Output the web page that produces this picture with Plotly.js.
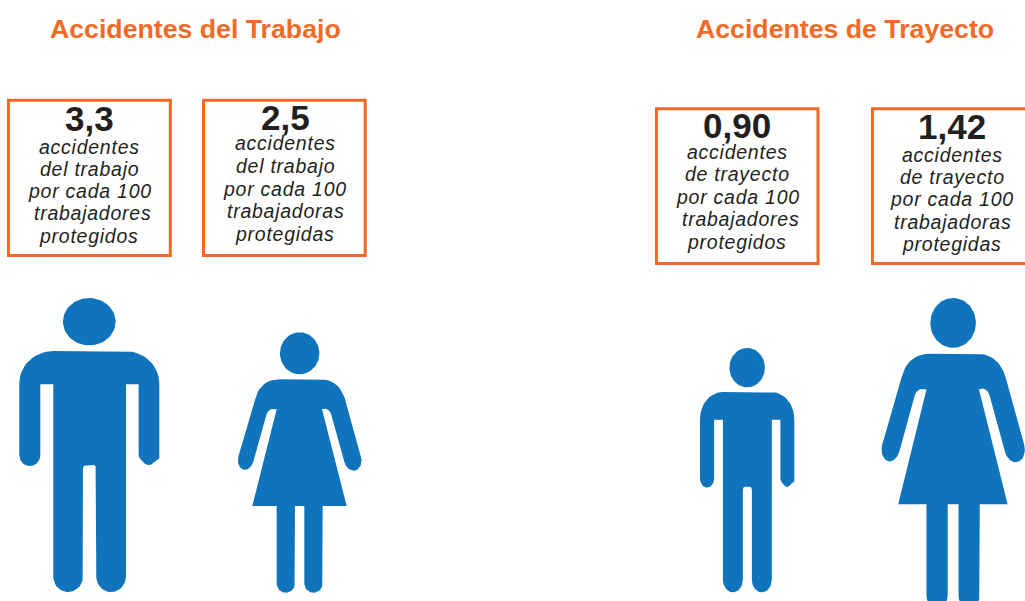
<!DOCTYPE html>
<html><head><meta charset="utf-8">
<script src="https://cdn.plot.ly/plotly-3.0.1.min.js"></script>
<style>html,body{margin:0;padding:0;background:#fff;overflow:hidden}
.annotation-text tspan[style*="italic"]{letter-spacing:0.75px}</style>
</head><body><div id="chart" style="width:1025px;height:601px"></div>
<script>
// ---- data ----
const panelTitles = ['Accidentes del Trabajo', 'Accidentes de Trayecto'];
const rateLabels = ['3,3', '2,5', '0,90', '1,42'];
const sexes = ['hombre', 'mujer', 'hombre', 'mujer'];
const captionTrabajadores = ['accidentes', 'del trabajo', 'por cada 100', 'trabajadores', 'protegidos'];
const captionTrabajadoras = ['accidentes', 'del trabajo', 'por cada 100', 'trabajadoras', 'protegidas'];
const captionTrayectoH = ['accidentes', 'de trayecto', 'por cada 100', 'trabajadores', 'protegidos'];
const captionTrayectoM = ['accidentes', 'de trayecto', 'por cada 100', 'trabajadoras', 'protegidas'];
const captions = [captionTrabajadores, captionTrabajadoras, captionTrayectoH, captionTrayectoM];

// ---- layout geometry ----
const panelTitleX = [195, 845];
const boxes = [[8.5, 170.3, 100.2, 255.6], [203.5, 365.2, 100.2, 255.6], [656.5, 818, 108.8, 263.6], [872.5, 1040, 108.8, 263.6]];
const numberPos = [[89, 118], [285, 117], [737, 125], [952, 126]];
const lineX = [[89, 89, 89.5, 92.5, 89], [285, 285, 285, 285, 285], [737, 737, 737.5, 740.5, 737], [952, 952, 952, 952, 952]];
const lineY = [[147, 169, 191, 213, 236], [143, 166, 189, 211, 234], [152, 174, 197, 219, 242], [155, 177, 199, 222, 244]];
const figures = [[19.3, 159.3, 297.7, 592], [238.3, 361.7, 332.3, 592.7], [700, 794.3, 347.7, 592.3], [882, 1025, 298, 607]];

const ORANGE = '#f26a25', BLUE = '#1074bc', INK = '#231f20';

// pictogram outlines, in their own drawing units
const manBox = [58, 478, 23, 906];
const manHead = [268, 95, 79, 71];
const manBody = [['M',160,183],['L',375,183],['Q',478,183,478,280],['L',478,505],['L',459,521],['Q',447,531,435,521],['L',424,511],['Q',416,504,416,494],['L',416,283],['L',378,283],['L',378,860],['Q',378,906,333,906],['Q',289,906,289,860],['L',289,535],['Q',289,525,279,525],['L',258,525],['Q',249,525,249,535],['L',249,860],['Q',249,906,204,906],['Q',160,906,160,860],['L',160,283],['L',121,283],['L',121,495],['Q',121,528,90,528],['Q',58,528,58,495],['L',58,280],['Q',58,183,160,183]];
const womanBox = [40, 410, 37, 818];
const womanHead = [224, 100, 59, 63];
const womanBody = [['M',165,178],['L',285,178],['Q',345,178,362,245,1],['L',408,408],['Q',418,452,385,452],['Q',364,452,358,425],['L',318,282],['Q',314,266,300,266],['L',291,268],['L',365,558],['L',293,558],['L',293,790],['Q',293,818,265,818],['Q',238,818,238,790],['L',238,558],['L',210,558],['L',210,790],['Q',210,818,182,818],['Q',155,818,155,790],['L',155,558],['L',82,558],['L',155,268],['L',145,266],['Q',130,266,125,282],['L',85,425],['Q',78,450,60,450],['Q',32,448,40,410],['L',90,240],['Q',105,178,165,178,1]];

function sample(cmds) {
  const xs = [], ys = [];
  let px = 0, py = 0;
  cmds.forEach(c => {
    if (c[0] === 'Q') {
      const w = c[5] || 0.7071;
      for (let i = 1; i <= 14; i++) {
        const t = i / 14, a = (1 - t) * (1 - t), b = 2 * w * t * (1 - t), d = t * t, s = a + b + d;
        xs.push((a * px + b * c[1] + d * c[3]) / s);
        ys.push((a * py + b * c[2] + d * c[4]) / s);
      }
      px = c[3]; py = c[4];
    } else {
      xs.push(c[1]); ys.push(c[2]);
      px = c[1]; py = c[2];
    }
  });
  return [xs, ys];
}
function ellipse(h) {
  const xs = [], ys = [];
  for (let i = 0; i <= 72; i++) {
    const a = i / 72 * 2 * Math.PI;
    xs.push(h[0] + h[2] * Math.cos(a));
    ys.push(h[1] + h[3] * Math.sin(a));
  }
  return [xs, ys];
}
function place(pts, src, dst) {
  return [
    pts[0].map(x => dst[0] + (x - src[0]) / (src[1] - src[0]) * (dst[1] - dst[0])),
    pts[1].map(y => dst[2] + (y - src[2]) / (src[3] - src[2]) * (dst[3] - dst[2]))
  ];
}

const traces = [];
sexes.forEach((s, i) => {
  const isMan = s === 'hombre';
  const src = isMan ? manBox : womanBox;
  [sample(isMan ? manBody : womanBody), ellipse(isMan ? manHead : womanHead)].forEach(part => {
    const p = place(part, src, figures[i]);
    traces.push({x: p[0], y: p[1], mode: 'lines', fill: 'toself', fillcolor: BLUE,
      line: {color: BLUE, width: 0}, hoverinfo: 'skip', showlegend: false, name: s});
  });
});

const shapes = boxes.map(b => ({type: 'rect', xref: 'x', yref: 'y', x0: b[0], x1: b[1], y0: b[2], y1: b[3],
  line: {color: ORANGE, width: 3}, fillcolor: 'rgba(0,0,0,0)', layer: 'above'}));

const annotations = [];
const FONT = '"Liberation Sans", Arial, sans-serif';
panelTitles.forEach((t, i) => annotations.push({x: panelTitleX[i], y: 29, text: '<b>' + t + '</b>', showarrow: false,
  xanchor: 'center', yanchor: 'middle', font: {family: FONT, size: 26.7, color: ORANGE}}));
rateLabels.forEach((t, i) => {
  annotations.push({x: numberPos[i][0], y: numberPos[i][1], text: '<b>' + t + '</b>', showarrow: false,
    xanchor: 'center', yanchor: 'middle', font: {family: FONT, size: 35, color: INK}});
  captions[i].forEach((l, j) => annotations.push({x: lineX[i][j], y: lineY[i][j], text: '<i>' + l + '</i>', showarrow: false,
    xanchor: 'center', yanchor: 'middle', font: {family: FONT, size: 19.5, color: INK}}));
});

const axis = {visible: false, fixedrange: true, showgrid: false, zeroline: false};
Plotly.newPlot('chart', traces, {
  width: 1025, height: 601, margin: {l: 0, r: 0, t: 0, b: 0},
  paper_bgcolor: '#fff', plot_bgcolor: '#fff', showlegend: false, hovermode: false,
  xaxis: Object.assign({range: [0, 1025]}, axis),
  yaxis: Object.assign({range: [601, 0]}, axis),
  shapes: shapes, annotations: annotations
}, {displayModeBar: false, staticPlot: true});
</script></body></html>
